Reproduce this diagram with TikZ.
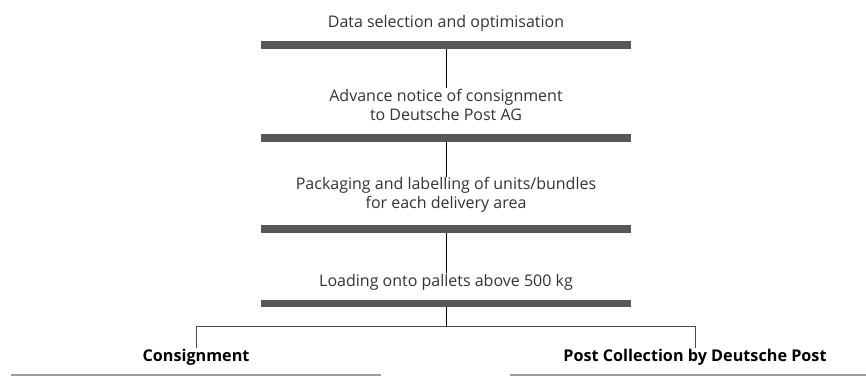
\documentclass[tikz,border=0pt]{standalone}
\usepackage{fontspec}
\setmainfont{Open Sans}
\usetikzlibrary{positioning}
\definecolor{barcol}{HTML}{575757}
\definecolor{rulecol}{HTML}{9B9B9B}
\definecolor{textcol}{HTML}{333333}
\tikzset{
  stage/.style={font=\fontsize{16}{18.5}\selectfont, text=textcol, align=center, inner sep=1pt},
  outcome/.style={font=\fontsize{16.2}{18}\selectfont\bfseries, text=black, inner sep=1pt},
  bar/.style={fill=barcol, minimum width=370pt, minimum height=7.5pt, inner sep=0pt},
  rule/.style={fill=rulecol, minimum width=370pt, minimum height=2pt, inner sep=0pt},
  link/.style={draw=black, line width=0.9pt},
  branch/.style={draw=black!70, line width=0.8pt},
}

\begin{document}
\begin{tikzpicture}[x=1pt, y=1pt]
  \useasboundingbox (0,0) rectangle (866,-376);

  % stages
  \node[stage] (s1) at (446,-23) {Data selection and optimisation};
  \node[bar, below of=s1, node distance=22pt] (b1) {};
  \node[stage, below of=b1, node distance=60pt] (s2) {Advance notice of consignment\\to Deutsche Post AG};
  \node[bar, below of=s2, node distance=33pt] (b2) {};
  \node[stage, below of=b2, node distance=57pt] (s3) {Packaging and labelling of units/bundles\\for each delivery area};
  \node[bar, below of=s3, node distance=34pt] (b3) {};
  \node[stage, below of=b3, node distance=53pt] (s4) {Loading onto pallets above 500 kg};
  \node[bar, below of=s4, node distance=21.5pt] (b4) {};

  % outcomes
  \node[outcome] (o1) at (196,-357) {Consignment};
  \node[outcome] (o2) at (695,-357) {Post Collection by Deutsche Post};
  \node[rule, below of=o1, node distance=18pt] (r1) {};
  \node[rule, below of=o2, node distance=18pt] (r2) {};
  \coordinate (fork) at (446,-326);

  % links
  \draw[link] (b1.south) -- (s2.north);
  \draw[link] (b2.south) -- (s3.north);
  \draw[link] (b3.south) -- (s4.north);
  \draw[link] (b4.south) -- (fork);
  \draw[branch] (o1.north) |- (fork) -| (o2.north);
\end{tikzpicture}
\end{document}
